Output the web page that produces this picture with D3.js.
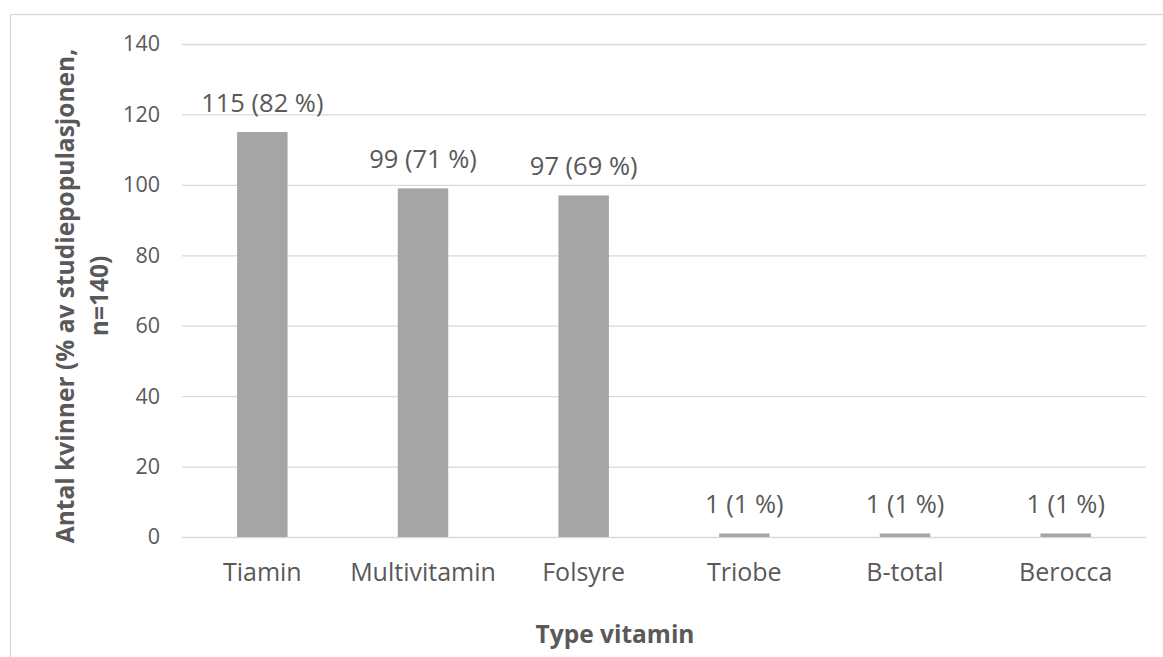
<!DOCTYPE html>
<html>
<head>
<meta charset="utf-8">
<script src="https://cdn.jsdelivr.net/npm/d3@7"></script>
<style>
  body { margin: 0; background: #fff; }
  text { font-family: "Open Sans", sans-serif; fill: #595959; }
</style>
</head>
<body>
<script>
const categories = ["Tiamin", "Multivitamin", "Folsyre", "Triobe", "B-total", "Berocca"];
const counts = [115, 99, 97, 1, 1, 1];
const percents = [82, 71, 69, 1, 1, 1];
const yTicks = [0, 20, 40, 60, 80, 100, 120, 140];

const width = 1163, height = 657;
const plotLeft = 182, plotRight = 1146, plotTop = 44, plotBottom = 537;

const svg = d3.select("body").append("svg")
    .attr("width", width)
    .attr("height", height);

// chart frame
svg.append("rect")
    .attr("x", 10.5).attr("y", 14.5)
    .attr("width", 1170).attr("height", 700)
    .attr("fill", "none")
    .attr("stroke", "#d9d9d9")
    .attr("stroke-width", 1.3);

let x = d3.scaleBand()
    .domain(categories)
    .range([plotLeft, plotRight]);

let y = d3.scaleLinear()
    .domain([0, 140])
    .range([plotBottom, plotTop]);

// gridlines + tick labels
let yAxis = svg.append("g")
    .attr("transform", "translate(" + plotLeft + ",0)")
    .call(d3.axisLeft(y).tickValues(yTicks).tickSize(-(plotRight - plotLeft)).tickPadding(22));
yAxis.select(".domain").remove();
yAxis.selectAll(".tick line").attr("stroke", "#d9d9d9").attr("stroke-width", 1.3);
yAxis.selectAll(".tick text")
    .style("font-family", "Open Sans")
    .style("font-size", "21.5px")
    .attr("fill", "#595959");

const barWidth = x.bandwidth() * 0.314;

let g = svg.selectAll(".bar")
    .data(categories)
    .enter()
    .append("g");

g.append("rect")
    .attr("x", d => x(d) + (x.bandwidth() - barWidth) / 2)
    .attr("y", (d, i) => y(counts[i]))
    .attr("width", barWidth)
    .attr("height", (d, i) => y(0) - y(counts[i]))
    .attr("fill", "#a5a5a5");

g.append("text")
    .attr("x", d => x(d) + x.bandwidth() / 2)
    .attr("y", (d, i) => y(counts[i]) - 20)
    .attr("text-anchor", "middle")
    .style("font-size", "25.5px")
    .text((d, i) => counts[i] + " (" + percents[i] + " %)");

// category labels
svg.append("g")
    .selectAll("text")
    .data(categories)
    .enter()
    .append("text")
    .attr("x", d => x(d) + x.bandwidth() / 2)
    .attr("y", 581)
    .attr("text-anchor", "middle")
    .style("font-size", "25px")
    .text(d => d);

// axis titles
svg.append("text")
    .attr("x", 615)
    .attr("y", 643)
    .attr("text-anchor", "middle")
    .style("font-size", "24.5px")
    .style("font-weight", "bold")
    .text("Type vitamin");

let yTitle = svg.append("text")
    .attr("transform", "translate(0,296) rotate(-90)")
    .attr("text-anchor", "middle")
    .style("font-size", "24.5px")
    .style("font-weight", "bold");
yTitle.append("tspan").attr("x", 0).attr("y", 74).text("Antal kvinner (% av studiepopulasjonen,");
yTitle.append("tspan").attr("x", 0).attr("y", 108).text("n=140)");
</script>
</body>
</html>
